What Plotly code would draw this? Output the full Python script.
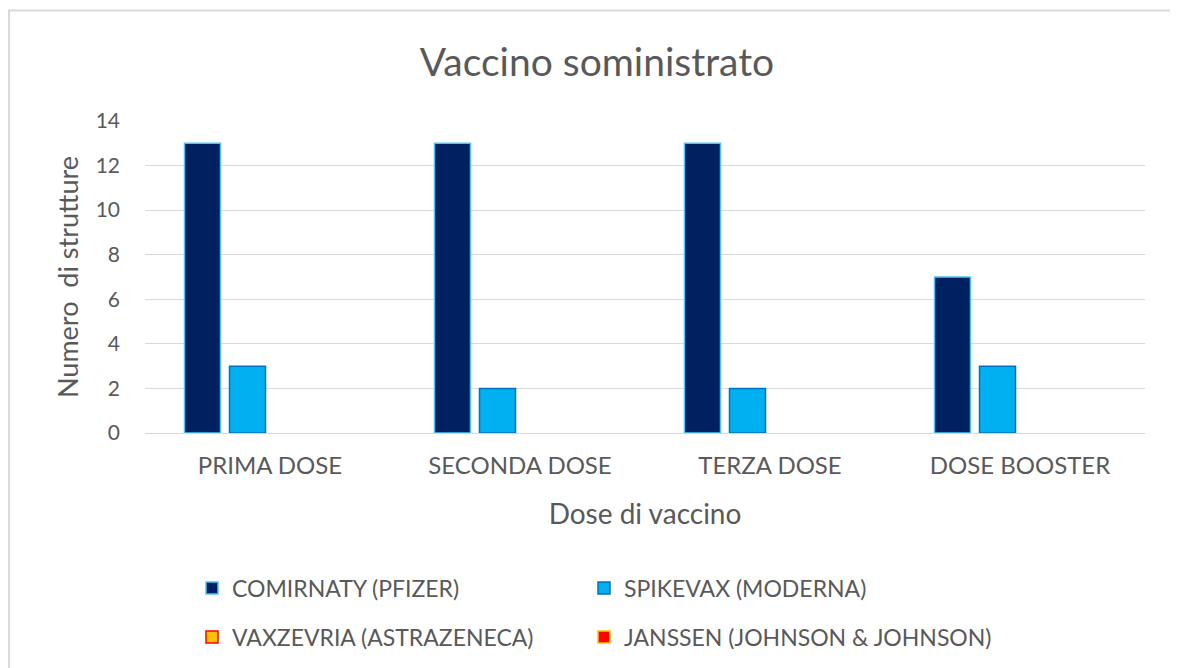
import plotly.graph_objects as go

categorie = ["PRIMA DOSE", "SECONDA DOSE", "TERZA DOSE", "DOSE BOOSTER"]
comirnaty = [13, 13, 13, 7]
spikevax = [3, 2, 2, 3]
vaxzevria = [0, 0, 0, 0]
janssen = [0, 0, 0, 0]

# nome, valori, riempimento, bordo
serie = [
    ("COMIRNATY (PFIZER)", comirnaty, "#002060", "#4FC3F7"),
    ("SPIKEVAX (MODERNA)", spikevax, "#00B0F0", "#0070C0"),
    ("VAXZEVRIA (ASTRAZENECA)", vaxzevria, "#FFC000", "#FF0000"),
    ("JANSSEN (JOHNSON & JOHNSON)", janssen, "#FF0000", "#FFC000"),
]
# una legenda per voce -> griglia 2x2 come in Excel
legende = ["legend", "legend2", "legend3", "legend4"]
pos_legenda = [(0.047, -0.497), (0.439, -0.497), (0.047, -0.654), (0.439, -0.654)]

FONT = "Lato, Carlito, Calibri, sans-serif"
GREY = "#595959"

fig = go.Figure()
for (nome, valori, colore, bordo), leg in zip(serie, legende):
    # valori a zero non disegnati (come in Excel), ma lo spazio resta
    y = [v if v else None for v in valori]
    fig.add_trace(go.Bar(
        name=nome, x=categorie, y=y, legend=leg, showlegend=True,
        marker=dict(color=colore, line=dict(color=bordo, width=1.5)),
    ))

# cornice grigia chiara attorno al grafico
fig.add_shape(
    type="rect", xref="paper", yref="paper",
    x0=-0.136, x1=1.3, y0=-1.0, y1=1.354,
    line=dict(color="#D9D9D9", width=2), fillcolor="rgba(0,0,0,0)",
)

layout_legende = {
    leg: dict(
        orientation="h", x=px, y=py, xanchor="left", yanchor="middle",
        font=dict(size=23, color=GREY, family=FONT),
        itemwidth=30, bgcolor="rgba(0,0,0,0)",
    )
    for leg, (px, py) in zip(legende, pos_legenda)
}

fig.update_layout(
    width=1178, height=668,
    margin=dict(l=137, r=41, t=113, b=243),
    paper_bgcolor="white", plot_bgcolor="white",
    barmode="group", bargap=0.28, bargroupgap=0.2,
    showlegend=True,
    font=dict(family=FONT, color=GREY, size=17),
    title=dict(
        text="Vaccino somministrato".replace("mm", "m"),
        x=0.5, xanchor="center", y=0.919, yanchor="middle",
        font=dict(size=39, color=GREY, family=FONT),
    ),
    **layout_legende,
)

fig.update_xaxes(
    showline=False, ticks="", tickfont=dict(size=24, color=GREY),
    ticklabelstandoff=16,
    title=dict(text="Dose di vaccino", font=dict(size=28, color=GREY), standoff=26),
)
fig.update_yaxes(
    range=[0, 14], dtick=2, showline=False, ticks="",
    gridcolor="#D9D9D9", gridwidth=1,
    zeroline=True, zerolinecolor="#D9D9D9", zerolinewidth=1,
    tickfont=dict(size=21, color=GREY), ticklabelstandoff=24,
    title=dict(text="Numero  di strutture", font=dict(size=27, color=GREY), standoff=9),
)

fig.write_html("out.html")
